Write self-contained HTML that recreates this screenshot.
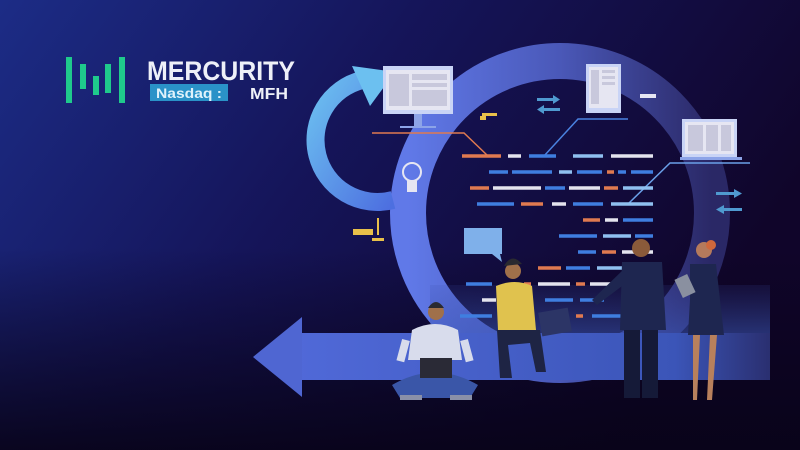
<!DOCTYPE html>
<html><head><meta charset="utf-8"><style>
html,body{margin:0;padding:0;width:800px;height:450px;overflow:hidden;background:#0d0830}
svg{display:block}
</style></head><body>
<svg width="800" height="450" viewBox="0 0 800 450" xmlns="http://www.w3.org/2000/svg">
<defs>
<linearGradient id="bg" x1="0" y1="0" x2="1" y2="0.4">
<stop offset="0" stop-color="#1c2c86"/><stop offset="0.45" stop-color="#15155a"/><stop offset="1" stop-color="#10052a"/>
</linearGradient>
<linearGradient id="bgb" x1="0" y1="0" x2="0" y2="1">
<stop offset="0.55" stop-color="#080318" stop-opacity="0"/><stop offset="1" stop-color="#080318" stop-opacity="0.9"/>
</linearGradient>
<linearGradient id="ring" x1="0" y1="0" x2="1" y2="0">
<stop offset="0" stop-color="#6079e8"/><stop offset="0.5" stop-color="#4a58b8"/><stop offset="1" stop-color="#2a2866"/>
</linearGradient>
<linearGradient id="arr" x1="0" y1="0" x2="1" y2="0">
<stop offset="0" stop-color="#5069d8"/><stop offset="0.8" stop-color="#3b55b8"/><stop offset="1" stop-color="#2a2f70"/>
</linearGradient>
<linearGradient id="small" x1="0" y1="0" x2="1" y2="1">
<stop offset="0" stop-color="#6cc0f0"/><stop offset="1" stop-color="#4d6fe0"/>
</linearGradient>
<linearGradient id="plat" x1="0" y1="0" x2="0" y2="1">
<stop offset="0" stop-color="#3a4da8" stop-opacity="0.15"/><stop offset="1" stop-color="#3c58b8" stop-opacity="0.6"/>
</linearGradient>
</defs>
<rect width="800" height="450" fill="url(#bg)"/>
<rect width="800" height="450" fill="url(#bgb)"/>

<circle cx="560" cy="213" r="152" fill="none" stroke="url(#ring)" stroke-width="36"/>
<path d="M 393 200 A 56 56 0 1 1 362 80" fill="none" stroke="url(#small)" stroke-width="18"/>
<polygon points="352,66 395,72 370,106" fill="#6cc0f0"/>

<rect x="430" y="285" width="340" height="55" fill="url(#plat)"/>
<rect x="295" y="333" width="475" height="47" fill="url(#arr)"/>
<polygon points="253,357 302,317 302,397" fill="#4f66d2"/>

<rect x="383" y="66" width="70" height="48" fill="#c9d4f6"/>
<rect x="386" y="70" width="64" height="40" fill="#e6e6f2"/>
<rect x="389" y="74" width="20" height="32" fill="#c8c8dc"/><rect x="412" y="74" width="35" height="6" fill="#c8c8dc"/>
<rect x="412" y="83" width="35" height="4" fill="#c8c8dc"/><rect x="412" y="90" width="35" height="16" fill="#c8c8dc"/>
<rect x="414" y="114" width="8" height="12" fill="#8da4e8"/><rect x="400" y="126" width="36" height="2" fill="#8da4e8"/>
<rect x="586" y="64" width="35" height="49" fill="#c9d4f6"/><rect x="589" y="67" width="29" height="41" fill="#e6e6f2"/>
<rect x="591" y="70" width="8" height="34" fill="#c8c8dc"/><rect x="602" y="70" width="13" height="3" fill="#c8c8dc"/><rect x="602" y="76" width="13" height="3" fill="#c8c8dc"/><rect x="602" y="82" width="13" height="3" fill="#c8c8dc"/>
<rect x="640" y="94" width="16" height="4" fill="#e6e6f2"/>
<rect x="682" y="119" width="55" height="38" fill="#c9d4f6"/><rect x="685" y="122" width="49" height="32" fill="#e6e6f2"/>
<rect x="688" y="125" width="15" height="26" fill="#c8c8dc"/><rect x="706" y="125" width="12" height="26" fill="#c8c8dc"/><rect x="721" y="125" width="10" height="26" fill="#c8c8dc"/>
<rect x="680" y="157" width="62" height="3" fill="#8da4e8"/>
<polyline points="372,133 464,133 488,156" fill="none" stroke="#e07a50" stroke-width="1.5"/>
<polyline points="628,119 578,119 544,156" fill="none" stroke="#4a82e0" stroke-width="1.5"/>
<polyline points="750,163 670,163 628,204" fill="none" stroke="#6aa0e8" stroke-width="1.5"/>
<g fill="#4f9ad0"><rect x="537" y="98" width="16" height="3"/><polygon points="553,95 560,99.5 553,104"/>
<rect x="544" y="108" width="16" height="3"/><polygon points="544,105 537,109.5 544,114"/>
<rect x="716" y="192" width="18" height="3"/><polygon points="734,189 742,193.5 734,198"/>
<rect x="724" y="208" width="18" height="3"/><polygon points="724,205 716,209.5 724,214"/></g>
<rect x="482" y="113" width="15" height="3" fill="#e8c04a"/><rect x="480" y="116" width="6" height="4" fill="#e8c04a"/>
<rect x="353" y="229" width="20" height="6" fill="#e8c04a"/><rect x="372" y="238" width="12" height="3" fill="#e8c04a"/><rect x="377" y="218" width="2" height="17" fill="#e8c04a"/>
<circle cx="412" cy="172" r="9" fill="none" stroke="#e6e6f2" stroke-width="2"/>
<rect x="407" y="180" width="10" height="12" fill="#e6e6f2"/>
<rect x="464" y="228" width="38" height="26" fill="#7fb0ea"/><polygon points="492,254 502,262 500,254" fill="#7fb0ea"/>

<g stroke-width="3.5">
<g stroke="#e07a50"><line x1="462" y1="156" x2="501" y2="156"/><line x1="607" y1="172" x2="614" y2="172"/><line x1="470" y1="188" x2="489" y2="188"/><line x1="604" y1="188" x2="618" y2="188"/><line x1="521" y1="204" x2="543" y2="204"/><line x1="583" y1="220" x2="600" y2="220"/><line x1="602" y1="252" x2="616" y2="252"/><line x1="538" y1="268" x2="561" y2="268"/><line x1="524" y1="284" x2="531" y2="284"/><line x1="576" y1="284" x2="585" y2="284"/><line x1="576" y1="316" x2="583" y2="316"/></g>
<g stroke="#e4e4ee"><line x1="508" y1="156" x2="521" y2="156"/><line x1="611" y1="156" x2="653" y2="156"/><line x1="493" y1="188" x2="541" y2="188"/><line x1="569" y1="188" x2="600" y2="188"/><line x1="552" y1="204" x2="566" y2="204"/><line x1="605" y1="220" x2="618" y2="220"/><line x1="622" y1="252" x2="653" y2="252"/><line x1="538" y1="284" x2="570" y2="284"/><line x1="590" y1="284" x2="611" y2="284"/><line x1="482" y1="300" x2="496" y2="300"/></g>
<g stroke="#3f7ee0"><line x1="529" y1="156" x2="556" y2="156"/><line x1="489" y1="172" x2="508" y2="172"/><line x1="512" y1="172" x2="552" y2="172"/><line x1="577" y1="172" x2="602" y2="172"/><line x1="618" y1="172" x2="626" y2="172"/><line x1="631" y1="172" x2="653" y2="172"/><line x1="545" y1="188" x2="565" y2="188"/><line x1="477" y1="204" x2="514" y2="204"/><line x1="573" y1="204" x2="603" y2="204"/><line x1="623" y1="220" x2="653" y2="220"/><line x1="559" y1="236" x2="597" y2="236"/><line x1="635" y1="236" x2="653" y2="236"/><line x1="578" y1="252" x2="596" y2="252"/><line x1="566" y1="268" x2="590" y2="268"/><line x1="466" y1="284" x2="492" y2="284"/><line x1="545" y1="300" x2="573" y2="300"/><line x1="580" y1="300" x2="604" y2="300"/><line x1="460" y1="316" x2="492" y2="316"/><line x1="592" y1="316" x2="622" y2="316"/></g>
<g stroke="#8fc0f0"><line x1="573" y1="156" x2="603" y2="156"/><line x1="559" y1="172" x2="572" y2="172"/><line x1="623" y1="188" x2="653" y2="188"/><line x1="611" y1="204" x2="653" y2="204"/><line x1="603" y1="236" x2="631" y2="236"/><line x1="597" y1="268" x2="622" y2="268"/></g>
</g>

<path d="M392 385 Q435 360 478 385 L470 398 L400 398Z" fill="#3a56a8"/>
<path d="M412 330 Q435 318 458 330 L462 360 L408 360Z" fill="#d8dcec"/>
<rect x="402" y="340" width="8" height="22" fill="#d8dcec" transform="rotate(15 406 340)"/>
<rect x="460" y="340" width="8" height="22" fill="#d8dcec" transform="rotate(-15 464 340)"/>
<rect x="420" y="358" width="32" height="20" fill="#2a2a36"/>
<circle cx="436" cy="312" r="8" fill="#a0704a"/><path d="M428 308 Q436 296 444 308Z" fill="#2a2a30"/>
<rect x="400" y="395" width="22" height="5" fill="#8a90a8"/><rect x="450" y="395" width="22" height="5" fill="#8a90a8"/>
<circle cx="513" cy="271" r="8" fill="#a0704a"/><path d="M504 266 Q512 252 522 264Z" fill="#2a2a30"/>
<path d="M496 286 Q515 278 532 286 L536 330 L498 330Z" fill="#e0c24e"/>
<path d="M497 330 L540 330 L546 372 L536 372 L530 343 L508 345 L512 378 L500 378Z" fill="#1e2444"/>
<rect x="540" y="310" width="30" height="24" fill="#2c3566" transform="rotate(-10 555 322)"/>
<circle cx="641" cy="248" r="9" fill="#8a5a3a"/>
<path d="M622 262 L662 262 L666 330 L620 330Z" fill="#1e2650"/>
<path d="M625 268 L592 300 L597 305 L630 280Z" fill="#1e2650"/>
<rect x="624" y="330" width="16" height="68" fill="#151a38"/><rect x="642" y="330" width="16" height="68" fill="#151a38"/>
<circle cx="704" cy="250" r="8" fill="#b57a5c"/><circle cx="711" cy="245" r="5" fill="#d0683c"/>
<path d="M690 264 L716 264 L720 300 L724 335 L688 335 L690 300Z" fill="#1e2650"/>
<rect x="678" y="276" width="14" height="20" fill="#8a90a0" transform="rotate(-25 685 286)"/>
<path d="M693 335 L700 335 L697 400 L693 400Z" fill="#b8805c"/><path d="M710 335 L717 335 L712 400 L707 400Z" fill="#b8805c"/>

<g fill="#1fca8c"><rect x="66" y="57" width="6" height="46"/><rect x="80" y="64" width="6" height="25"/><rect x="93" y="76" width="6" height="19"/><rect x="105" y="64" width="6" height="29"/><rect x="119" y="57" width="6" height="46"/></g>
<text x="147" y="80" font-family="Liberation Sans, sans-serif" font-size="27" font-weight="bold" fill="#eef0f8" textLength="148" lengthAdjust="spacingAndGlyphs">MERCURITY</text>
<rect x="150" y="84" width="78" height="17" fill="#2a92c8"/>
<text x="156" y="98" font-family="Liberation Sans, sans-serif" font-size="14" font-weight="bold" fill="#dff2fb" textLength="66" lengthAdjust="spacingAndGlyphs">Nasdaq :</text>
<text x="250" y="99" font-family="Liberation Sans, sans-serif" font-size="16" font-weight="bold" fill="#eef0f8" textLength="38" lengthAdjust="spacingAndGlyphs">MFH</text>
</svg>
</body></html>
